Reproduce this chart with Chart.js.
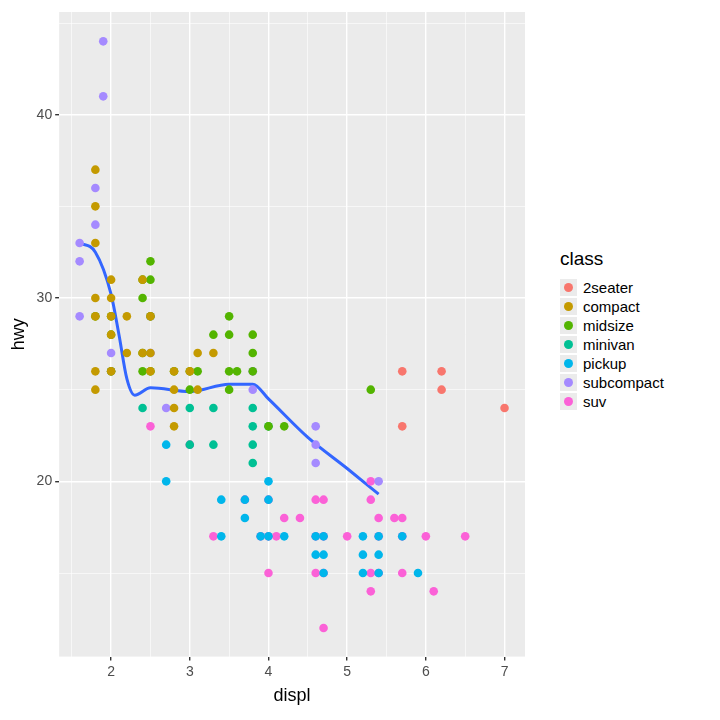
<!DOCTYPE html>
<html><head><meta charset="utf-8">
<script src="https://cdn.jsdelivr.net/npm/chart.js@4"></script>
<style>
body{margin:0;background:#fff;font-family:"Liberation Sans",Arial,sans-serif}
#wrap{position:absolute;left:0;top:0;width:535px;height:720px}
#leg{position:absolute;left:560px;top:248px;font-size:15px;color:#000}
#leg .t{font-size:19px;margin-bottom:8px}
#leg .i{height:19px;display:flex;align-items:center}
#leg .b{width:17px;height:17px;background:#EBEBEB;display:flex;align-items:center;justify-content:center;margin-right:6px}
#leg .d{width:9px;height:9px;border-radius:50%}
</style></head><body>
<div id="wrap"><canvas id="c" width="535" height="715"></canvas></div>
<div id="leg"><div class="t">class</div></div>
<script>
const classes=["2seater","compact","midsize","minivan","pickup","subcompact","suv"];
const colors=["#F8766D","#C49A00","#53B400","#00C094","#00B6EB","#A58AFF","#FB61D7"];
const twoseater=[[5.7,26],[5.7,23],[6.2,26],[6.2,25],[7.0,24]];
const compact=[[1.8,29],[1.8,26],[1.8,25],[1.8,37],[1.8,35],[1.8,33],[1.8,30],[2.0,31],[2.0,30],[2.0,28],[2.0,29],[2.0,26],[2.2,27],[2.2,29],[2.4,31],[2.4,27],[2.5,29],[2.5,27],[2.5,26],[2.8,26],[2.8,25],[2.8,23],[2.8,24],[3.0,26],[3.1,27],[3.1,25],[3.3,27]];
const midsize=[[1.8,29],[2.0,29],[2.0,28],[2.0,26],[2.4,30],[2.4,31],[2.4,27],[2.4,26],[2.5,32],[2.5,31],[2.5,29],[2.5,26],[2.8,26],[3.0,26],[3.0,25],[3.1,26],[3.5,29],[3.5,28],[3.5,26],[3.5,25],[3.3,28],[3.6,26],[3.8,28],[3.8,27],[3.8,26],[4.0,23],[4.2,23],[5.3,25]];
const minivan=[[2.4,24],[3.0,24],[3.0,22],[3.3,22],[3.3,24],[3.8,22],[3.8,21],[3.8,23],[3.8,24],[4.0,23]];
const pickup=[[2.7,20],[2.7,22],[3.4,19],[3.4,17],[3.7,18],[3.7,19],[3.9,17],[4.0,17],[4.0,20],[4.0,19],[4.2,17],[4.6,17],[4.6,16],[4.7,17],[4.7,16],[4.7,15],[5.2,16],[5.2,15],[5.2,17],[5.4,15],[5.4,17],[5.4,16],[5.7,17],[5.9,15]];
const subcompact=[[1.6,33],[1.6,32],[1.6,29],[1.8,36],[1.8,34],[1.9,44],[1.9,41],[2.0,27],[2.0,26],[2.5,29],[2.5,27],[2.7,24],[3.8,25],[3.8,26],[4.6,23],[4.6,22],[4.6,21],[5.4,20]];
const suv=[[2.5,23],[3.0,22],[3.3,17],[3.7,19],[3.9,17],[4.0,15],[4.0,19],[4.0,17],[4.4,18],[4.6,19],[4.6,17],[4.6,15],[4.7,19],[4.7,17],[4.7,15],[4.7,12],[5.0,17],[5.3,14],[5.3,15],[5.3,19],[5.3,20],[5.4,18],[5.4,17],[5.4,15],[5.6,18],[5.7,18],[5.7,17],[5.7,15],[6.0,17],[6.1,14],[6.5,17],[4.2,18],[4.1,17]];
const series=[twoseater,compact,midsize,minivan,pickup,subcompact,suv];
const smooth=[[1.6,33],[1.8,32.5],[2.0,30.2],[2.1,28],[2.2,25.6],[2.3,24.7],[2.5,25.1],[3.0,24.9],[3.5,25.3],[3.8,25.3],[4.0,24.5],[4.5,22.4],[5.0,20.7],[5.4,19.3]];
const xTicks=[1.5,2,2.5,3,3.5,4,4.5,5,5.5,6,6.5,7];
const yTicks=[15,20,25,30,35,40,45];
const xMajor=[2,3,4,5,6,7], yMajor=[20,30,40];

const leg=document.getElementById('leg');
classes.forEach((c,i)=>{leg.insertAdjacentHTML('beforeend',`<div class="i"><div class="b"><div class="d" style="background:${colors[i]}"></div></div>${c}</div>`);});

const bg={id:'bg',beforeDraw(ch){const a=ch.chartArea,x=ch.ctx;x.save();x.fillStyle='#EBEBEB';x.fillRect(a.left,a.top,a.width,a.height);x.restore();}};
const toPts=a=>a.map(p=>({x:p[0],y:p[1]}));
const ds=series.map((s,i)=>({type:'scatter',data:toPts(s),backgroundColor:colors[i],borderWidth:0,pointRadius:4.3,pointHoverRadius:4.3}));
ds.push({type:'line',data:toPts(smooth),borderColor:'#3366FF',borderWidth:3,pointRadius:0,tension:0.4,cubicInterpolationMode:'monotone',fill:false});
const grid=(maj)=>({color:'#fff',lineWidth:c=>maj.includes(c.tick&&c.tick.value)?1.4:0.6,drawTicks:true,tickLength:4,z:0});
new Chart(document.getElementById('c'),{
 data:{datasets:ds},
 plugins:[bg],
 options:{responsive:false,animation:false,devicePixelRatio:1,
  layout:{padding:{top:12,right:10,left:4,bottom:4}},
  plugins:{legend:{display:false},tooltip:{enabled:false}},
  scales:{
   x:{type:'linear',min:1.34,max:7.26,afterBuildTicks:a=>{a.ticks=xTicks.map(v=>({value:v}));},
      grid:{...grid(xMajor),tickColor:c=>xMajor.includes(c.tick.value)?'#333':'rgba(0,0,0,0)'},border:{display:false},
      ticks:{color:'#4D4D4D',font:{size:14},callback:v=>xMajor.includes(v)?String(v):'',maxRotation:0,autoSkip:false},
      title:{display:true,text:'displ',color:'#000',font:{size:18},padding:{top:2}}},
   y:{type:'linear',min:10.44,max:45.6,afterBuildTicks:a=>{a.ticks=yTicks.map(v=>({value:v}));},
      grid:{...grid(yMajor),tickColor:c=>yMajor.includes(c.tick.value)?'#333':'rgba(0,0,0,0)'},border:{display:false},
      ticks:{color:'#4D4D4D',font:{size:14},callback:v=>yMajor.includes(v)?String(v):'',autoSkip:false},
      title:{display:true,text:'hwy',color:'#000',font:{size:18}}}
  }}
});
</script></body></html>
